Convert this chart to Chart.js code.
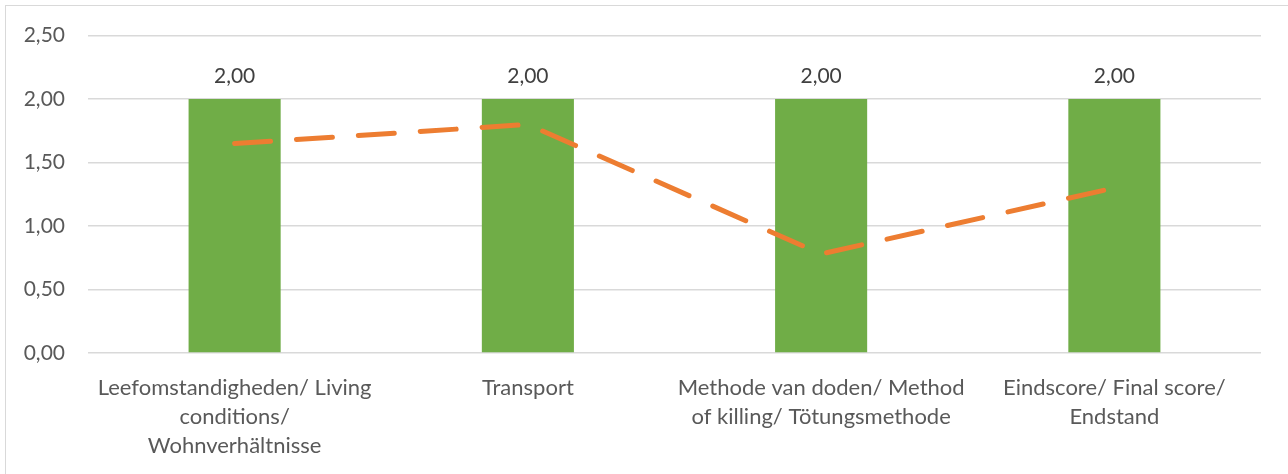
<!DOCTYPE html>
<html>
<head>
<meta charset="utf-8">
<script src="https://cdn.jsdelivr.net/npm/chart.js@4/dist/chart.umd.min.js"></script>
<style>
	html, body { margin: 0; padding: 0; background: #fff; }
	#wrap { position: relative; width: 1288px; height: 474px; overflow: hidden; }
	#frame { position: absolute; left: 5px; top: 5px; width: 1300px; height: 500px; border: 1.5px solid #d9d9d9; box-sizing: border-box; }
	canvas { position: absolute; left: 0; top: 0; }
</style>
</head>
<body>
<div id="wrap">
	<div id="frame"></div>
	<canvas id="chart" width="1288" height="474"></canvas>
</div>
<script>
const categories = [
	["Leefomstandigheden/ Living", "conditions/", "Wohnverhältnisse"],
	"Transport",
	["Methode van doden/ Method", "of killing/ Tötungsmethode"],
	["Eindscore/ Final score/", "Endstand"]
];
const barValues = [2.00, 2.00, 2.00, 2.00];
const lineValues = [1.65, 1.80, 0.78, 1.30];
const yTicks = [0, 0.5, 1, 1.5, 2, 2.5];

const textColor = "#595959";
const fontFamily = "Lato, 'Open Sans', sans-serif";

function fmt(v){
	return v.toFixed(2).replace(".", ",");
}

// draws the "2,00" labels over the bars
const barLabels = {
	id: "barLabels",
	afterDatasetsDraw(chart){
		const ctx = chart.ctx;
		const meta = chart.getDatasetMeta(0);
		ctx.save();
		ctx.font = "21px " + fontFamily;
		ctx.fillStyle = "#404040";
		ctx.textAlign = "center";
		ctx.textBaseline = "alphabetic";
		meta.data.forEach((bar, i) => {
			ctx.fillText(fmt(barValues[i]), bar.x, bar.y - 16);
		});
		ctx.restore();
	}
};

const chart = new Chart(document.getElementById("chart").getContext("2d"), {
	type: "bar",
	data: {
		labels: categories,
		datasets: [
			{
				type: "bar",
				data: barValues,
				backgroundColor: "#70ad47",
				categoryPercentage: 1,
				barPercentage: 0.314,
				order: 2,
			},
			{
				type: "line",
				data: lineValues,
				borderColor: "#ed7d31",
				borderWidth: 5,
				borderDash: [36, 26],
				borderCapStyle: "round",
				pointRadius: 0,
				tension: 0,
				fill: false,
				order: 1,
			}
		]
	},
	options: {
		responsive: false,
		animation: false,
		layout: {
			padding: { top: 35, right: 27, left: 0, bottom: 0 }
		},
		plugins: {
			legend: { display: false },
			tooltip: { enabled: false },
		},
		scales: {
			x: {
				grid: { display: false },
				border: { display: false },
				ticks: {
					color: textColor,
					font: { family: fontFamily, size: 22, lineHeight: 1.33 },
					padding: 12,
					maxRotation: 0,
					autoSkip: false,
				},
				afterFit: (s) => { s.height = 121; }
			},
			y: {
				min: 0,
				max: 2.5,
				afterBuildTicks: (s) => { s.ticks = yTicks.map(v => ({ value: v })); },
				grid: { color: "#d9d9d9", lineWidth: 1.5, drawTicks: false },
				border: { display: false },
				ticks: {
					color: textColor,
					font: { family: fontFamily, size: 21 },
					padding: 23,
					callback: (v) => fmt(v),
				},
				afterFit: (s) => { s.width = 88; }
			}
		}
	},
	plugins: [barLabels]
});
</script>
</body>
</html>
